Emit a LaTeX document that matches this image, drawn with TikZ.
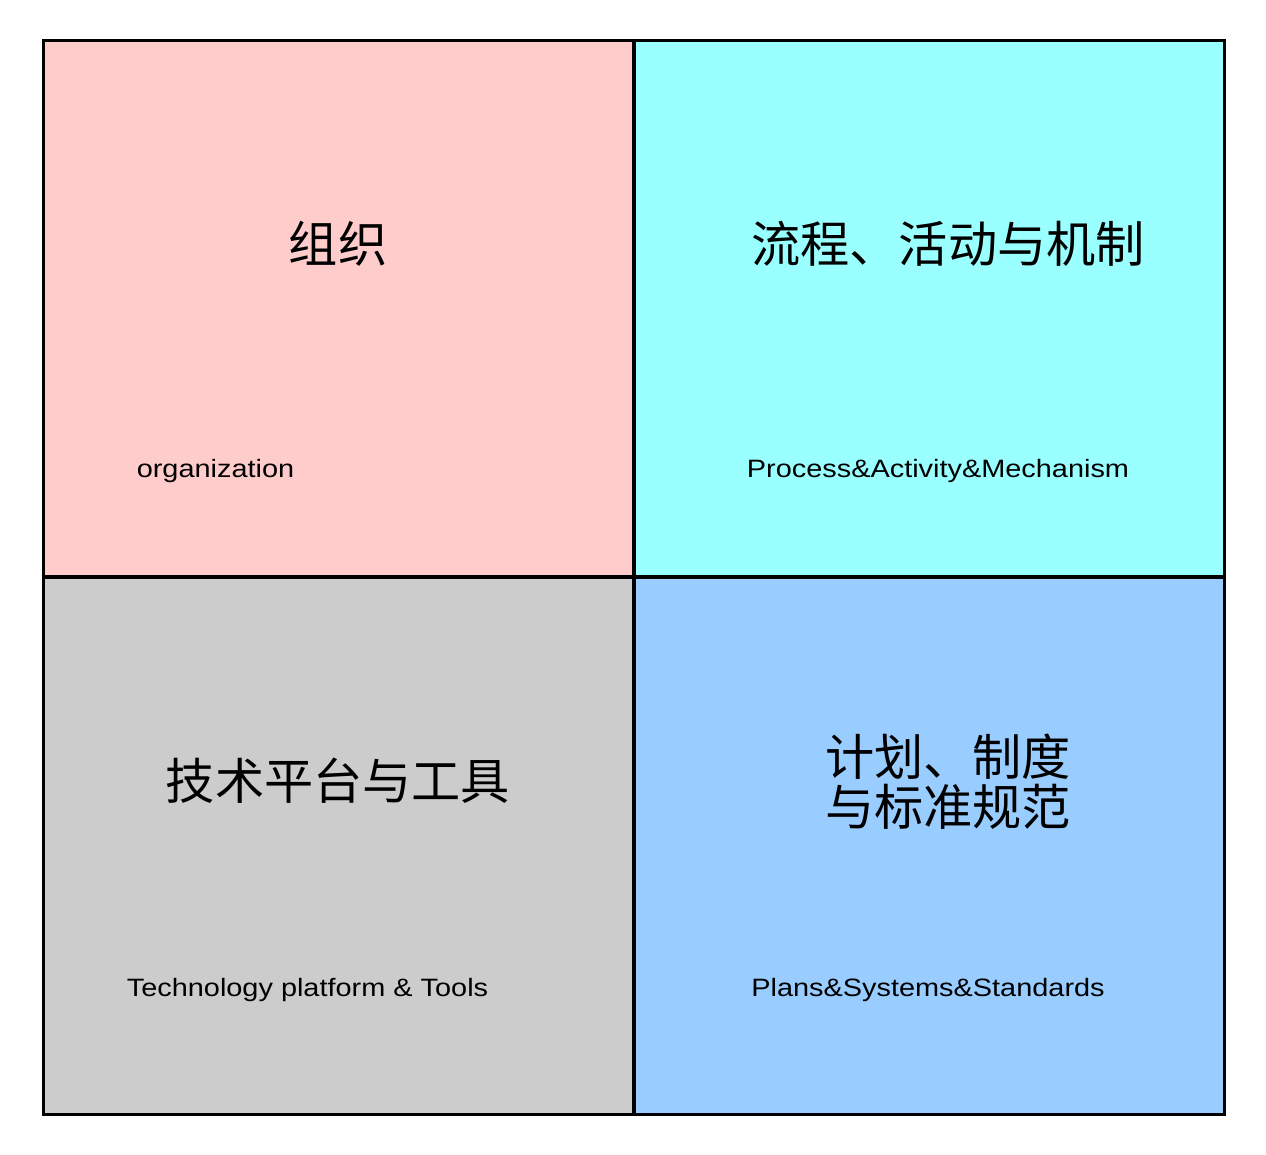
\documentclass[tikz,border=0pt]{standalone}
\usepackage{fontspec}
\setmainfont{Liberation Sans}
\newfontfamily\latin[FakeStretch=1.15]{Liberation Sans}
\newfontfamily\cjk{Noto Sans CJK SC}
\usepackage{xcolor}
\usetikzlibrary{positioning}
\definecolor{orgpink}{HTML}{FFCCCC}
\definecolor{proccyan}{HTML}{99FFFF}
\definecolor{techgray}{HTML}{CCCCCC}
\definecolor{planblue}{HTML}{99CCFF}

\begin{document}
\begin{tikzpicture}[
    x=0.02cm, y=-0.02cm,
    cell/.style={rectangle, draw, line width=1.7pt, minimum width=11.82cm, minimum height=10.74cm, outer sep=0pt, inner sep=0pt},
    title/.style={font=\cjk\fontsize{28}{28.5}\selectfont, align=center, inner sep=0pt},
    label/.style={font=\latin\fontsize{14.3}{17}\selectfont, inner sep=0pt}
]
\useasboundingbox (0,0) rectangle (1266,1154);

% Four quadrants
\node[cell, fill=orgpink] (org) at (338.5, 308.5) {};
\node[cell, fill=proccyan] (proc) at (929.5, 308.5) {};
\node[cell, fill=techgray] (tech) at (338.5, 846) {};
\node[cell, fill=planblue] (plan) at (929.5, 846) {};

% Titles
\node[title] (orgcn) at (338, 244) {组织};
\node[title] (proccn) at (948, 244) {流程、活动与机制};
\node[title] (techcn) at (338, 781) {技术平台与工具};
\node[title] (plancn) at (948, 782) {计划、制度\\与标准规范};

% English labels
\node[label] (orgen) at (215.5, 471) {organization};
\node[label] (procen) at (938, 471) {Process\&Activity\&Mechanism};
\node[label] (techen) at (307.5, 990) {Technology platform \& Tools};
\node[label] (planen) at (928, 990) {Plans\&Systems\&Standards};

\end{tikzpicture}
\end{document}
